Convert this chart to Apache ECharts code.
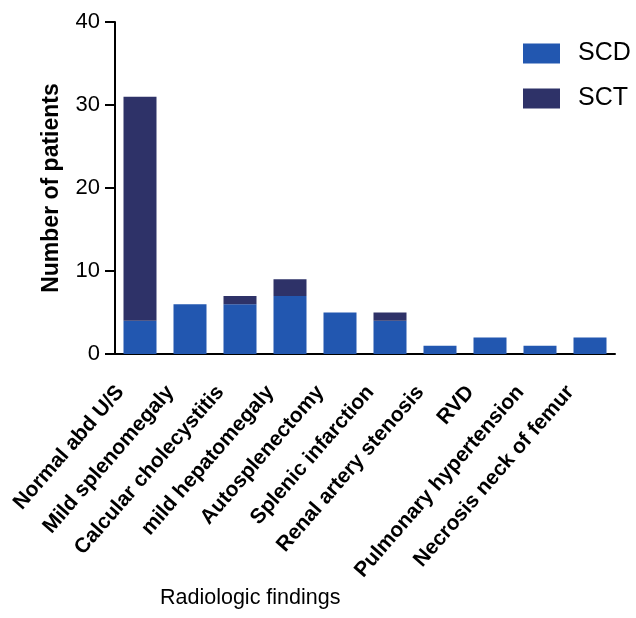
<!DOCTYPE html>
<html>
<head>
<meta charset="utf-8">
<script src="https://cdn.jsdelivr.net/npm/echarts@6/dist/echarts.min.js"></script>
<style>
  html, body { margin: 0; padding: 0; background: #ffffff; }
  #chart { width: 636px; height: 618px; }
</style>
</head>
<body>
<div id="chart"></div>
<script>
// Radiologic findings per patient group (stacked counts)
const categories = [
  'Normal abd U/S',
  'Mild splenomegaly',
  'Calcular cholecystitis',
  'mild hepatomegaly',
  'Autosplenectomy',
  'Splenic infarction',
  'Renal artery stenosis',
  'RVD',
  'Pulmonary hypertension',
  'Necrosis neck of femur'
];
const scdValues = [4, 6, 6, 7, 5, 4, 1, 2, 1, 2];
const sctValues = [27, 0, 1, 2, 0, 1, 0, 0, 0, 0];
const yTicks = [0, 10, 20, 30, 40];

const FONT = '"Liberation Sans", Arial, sans-serif';
const SCD_COLOR = '#2257b0';
const SCT_COLOR = '#2e3268';

const chart = echarts.init(document.getElementById('chart'));
chart.setOption({
  backgroundColor: '#ffffff',
  animation: false,
  textStyle: { fontFamily: FONT, color: '#000' },
  grid: { left: 115, right: 21, top: 22, bottom: 264, containLabel: false },
  legend: {
    orient: 'vertical',
    left: 523,
    top: 36,
    padding: [5, 0, 5, 0],
    itemWidth: 37,
    itemHeight: 20,
    itemGap: 20,
    icon: 'rect',
    textStyle: { fontFamily: FONT, fontSize: 25, color: '#000', padding: [0, 0, 0, 13] },
    data: ['SCD', 'SCT']
  },
  graphic: [{
    type: 'text',
    left: 253 - 93,
    top: 587,
    style: {
      text: 'Radiologic findings',
      font: '21.5px "Liberation Sans", Arial, sans-serif',
      fill: '#000'
    }
  }],
  xAxis: {
    type: 'category',
    data: categories,
    axisLine: { lineStyle: { color: '#000', width: 2 } },
    axisTick: { alignWithLabel: true, length: 9, lineStyle: { color: '#000', width: 2 } },
    axisLabel: {
      interval: 0,
      rotate: 49,
      fontFamily: FONT,
      fontWeight: 'bold',
      fontSize: 21,
      color: '#000',
      margin: 12,
      padding: [0, 30, 0, 0]
    }
  },
  yAxis: {
    type: 'value',
    min: yTicks[0],
    max: yTicks[yTicks.length - 1],
    interval: 10,
    name: 'Number of patients',
    nameLocation: 'middle',
    nameGap: 52,
    nameRotate: 90,
    nameTextStyle: { fontFamily: FONT, fontSize: 23, fontWeight: 'bold', color: '#000' },
    axisLine: { show: true, lineStyle: { color: '#000', width: 2 } },
    axisTick: { show: true, length: 10, lineStyle: { color: '#000', width: 2 } },
    axisLabel: { fontFamily: FONT, fontSize: 22, color: '#000', margin: 15 },
    splitLine: { show: false }
  },
  series: [
    {
      name: 'SCD',
      type: 'bar',
      stack: 'total',
      barWidth: '66%',
      data: scdValues,
      itemStyle: { color: SCD_COLOR }
    },
    {
      name: 'SCT',
      type: 'bar',
      stack: 'total',
      barWidth: '66%',
      data: sctValues,
      itemStyle: { color: SCT_COLOR }
    }
  ]
});
</script>
</body>
</html>
